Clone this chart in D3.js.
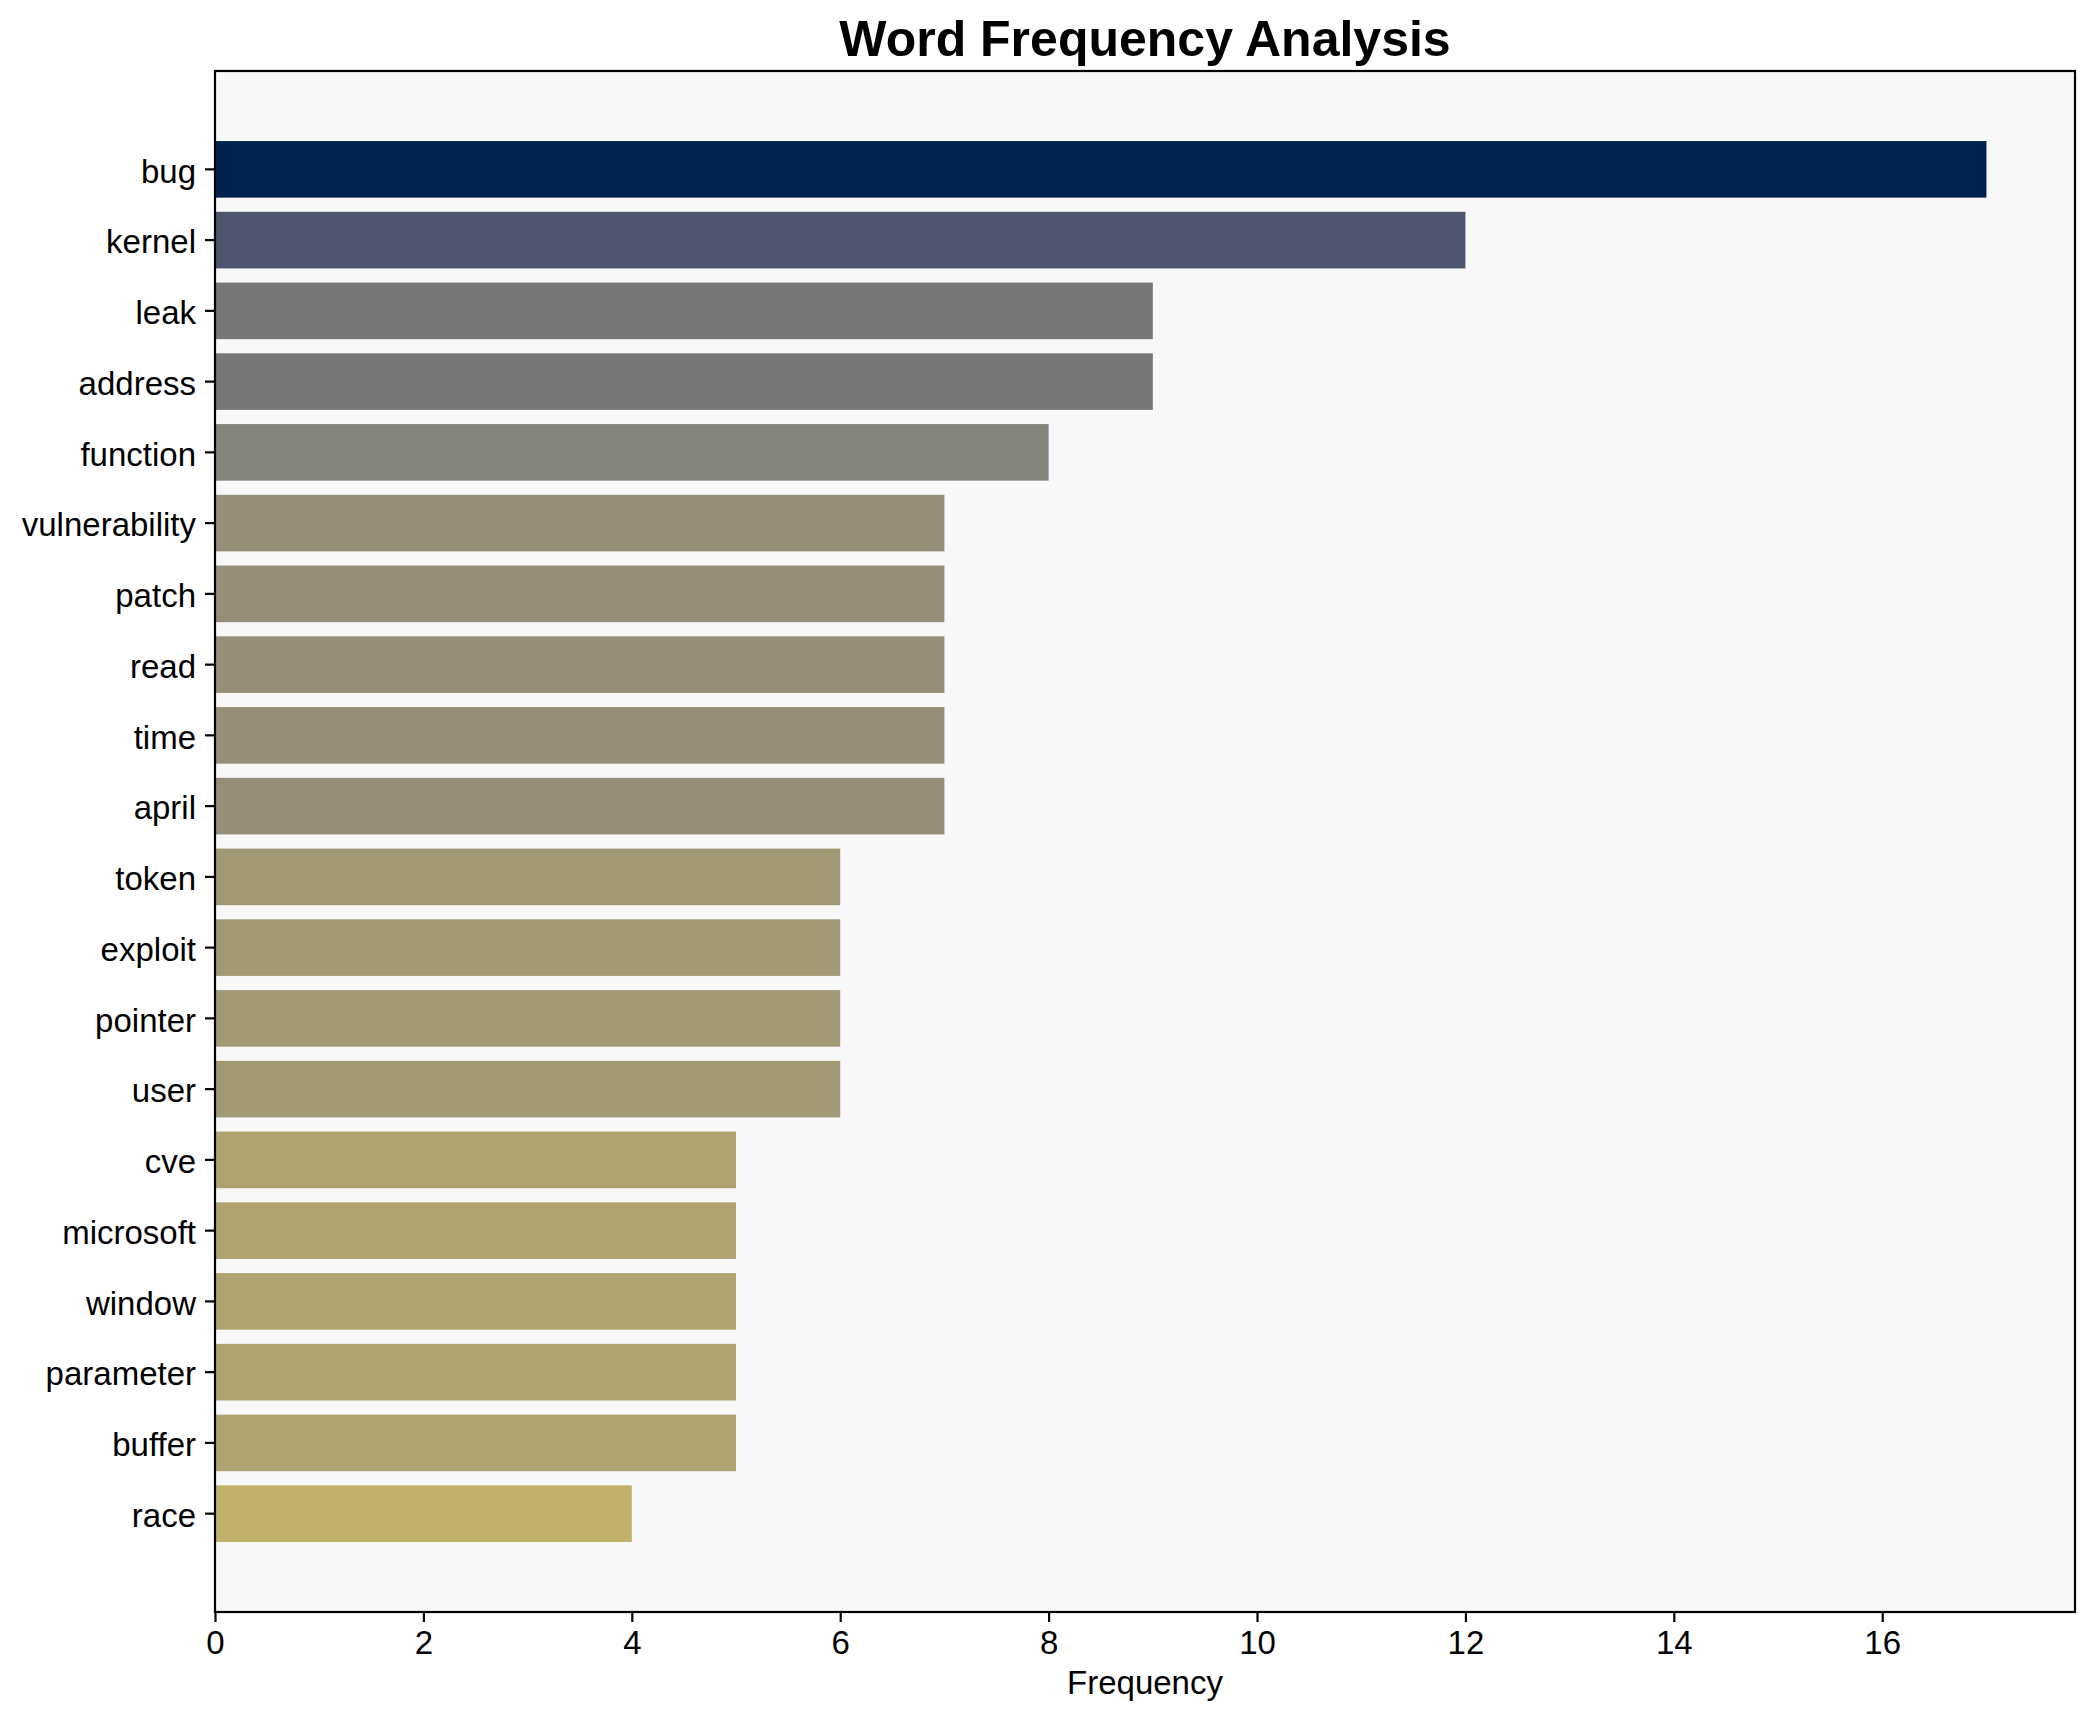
<!DOCTYPE html>
<html>
<head>
<meta charset="utf-8">
<script src="https://cdn.jsdelivr.net/npm/d3@7"></script>
<style>
  html, body { margin: 0; padding: 0; background: #ffffff; }
  text { font-family: "Liberation Sans", Arial, sans-serif; }
</style>
</head>
<body>
<svg id="chart" width="2095" height="1722"></svg>
<script>
// ---- data ----
const words = ["bug", "kernel", "leak", "address", "function", "vulnerability", "patch", "read", "time", "april",
               "token", "exploit", "pointer", "user", "cve", "microsoft", "window", "parameter", "buffer", "race"];
const frequencies = [17, 12, 9, 9, 8, 7, 7, 7, 7, 7, 6, 6, 6, 6, 5, 5, 5, 5, 5, 4];
const xTicks = [0, 2, 4, 6, 8, 10, 12, 14, 16];
const titleText = "Word Frequency Analysis";
const xLabelText = "Frequency";

// ---- style (colour by frequency value) ----
const colorByValue = {17: "#00224e", 12: "#4d566d", 9: "#777777", 8: "#86847a", 7: "#958e78",
                      6: "#a19973", 5: "#aea370", 4: "#c0b06a"};

const svg = d3.select("#chart");
const plotLeft = 215, plotRight = 2075, plotTop = 71, plotBottom = 1612;

const xMax = d3.max(frequencies) * 1.05;
const x = d3.scaleLinear().domain([0, xMax]).range([plotLeft, plotRight]);
const y = d3.scaleBand().domain(words).range([plotTop, plotBottom]).paddingInner(0.2).paddingOuter(0.99);

// plot background
svg.append("rect").attr("x", plotLeft).attr("y", plotTop)
   .attr("width", plotRight - plotLeft).attr("height", plotBottom - plotTop)
   .attr("fill", "#f8f8f8");

// bars
svg.append("g").selectAll("rect").data(words).join("rect")
   .attr("x", x(0))
   .attr("y", d => y(d))
   .attr("width", (d, i) => x(frequencies[i]) - x(0))
   .attr("height", y.bandwidth())
   .attr("fill", (d, i) => colorByValue[frequencies[i]]);

// x axis
const xAxis = d3.axisBottom(x).tickValues(xTicks).tickFormat(d3.format("d")).tickSize(10).tickPadding(9);
const gx = svg.append("g").attr("transform", `translate(0,${plotBottom})`).call(xAxis);
gx.select(".domain").remove();
gx.selectAll(".tick line").attr("stroke", "#000").attr("stroke-width", 2.2);
gx.selectAll(".tick text").attr("font-size", 33).attr("fill", "#000")
  .attr("font-family", "'Liberation Sans', Arial, sans-serif");

// y axis
const yAxis = d3.axisLeft(y).tickSize(10).tickPadding(9);
const gy = svg.append("g").attr("transform", `translate(${plotLeft},0)`).call(yAxis);
gy.select(".domain").remove();
gy.selectAll(".tick line").attr("stroke", "#000").attr("stroke-width", 2.2);
gy.selectAll(".tick text").attr("font-size", 33).attr("fill", "#000").attr("dy", "0.4em")
  .attr("font-family", "'Liberation Sans', Arial, sans-serif");

// frame
svg.append("rect").attr("x", plotLeft).attr("y", plotTop)
   .attr("width", plotRight - plotLeft).attr("height", plotBottom - plotTop)
   .attr("fill", "none").attr("stroke", "#000").attr("stroke-width", 2.2);

// title
svg.append("text").attr("x", (plotLeft + plotRight) / 2).attr("y", 56)
   .attr("text-anchor", "middle").attr("font-size", 50).attr("font-weight", "bold").attr("fill", "#000")
   .text(titleText);

// x label
svg.append("text").attr("x", (plotLeft + plotRight) / 2).attr("y", 1694)
   .attr("text-anchor", "middle").attr("font-size", 33).attr("fill", "#000")
   .text(xLabelText);
</script>
</body>
</html>
